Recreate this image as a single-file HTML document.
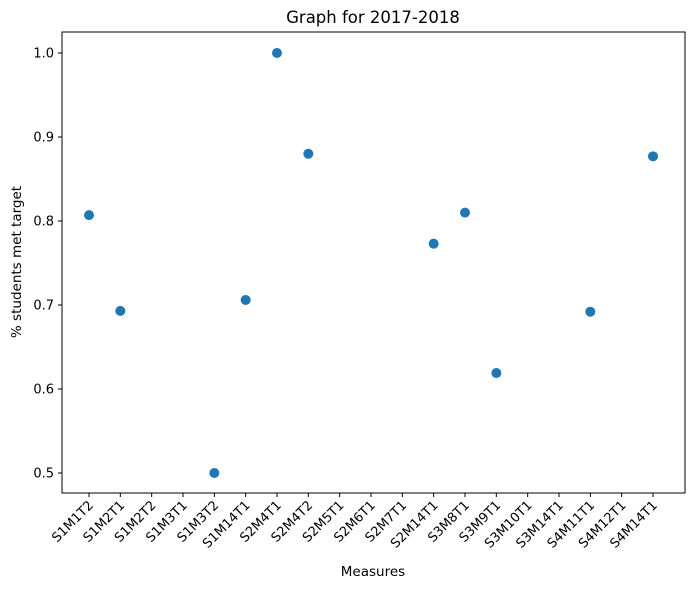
<!DOCTYPE html>
<html><head><meta charset="utf-8"><style>
body{margin:0;background:#fff;}
svg{font-family:"DejaVu Sans","Liberation Sans",sans-serif;}
</style></head><body>
<svg id="chart" width="691" height="589">
<rect x="0" y="0" width="691" height="589" fill="#fff"/>
<text x="373" y="23" font-size="16.5" text-anchor="middle">Graph for 2017-2018</text>
<rect x="62" y="32" width="623" height="461" fill="none" stroke="#000" stroke-width="1"/>
<g id="yaxis"></g>
<g id="xaxis"></g>
<g id="points"></g>
<text x="373" y="576" font-size="13.5" text-anchor="middle">Measures</text>
<text transform="translate(21,262) rotate(-90)" font-size="13.5" text-anchor="middle">% students met target</text>
</svg>
<script>
const categories=["S1M1T2","S1M2T1","S1M2T2","S1M3T1","S1M3T2","S1M14T1","S2M4T1","S2M4T2","S2M5T1","S2M6T1","S2M7T1","S2M14T1","S3M8T1","S3M9T1","S3M10T1","S3M14T1","S4M11T1","S4M12T1","S4M14T1"];
const values=[0.807,0.693,null,null,0.5,0.706,1.0,0.880,null,null,null,0.773,0.810,0.619,null,null,0.692,null,0.877];
const yTicks=[0.5,0.6,0.7,0.8,0.9,1.0];
const yTickLabels=["0.5","0.6","0.7","0.8","0.9","1.0"];
const NS="http://www.w3.org/2000/svg";
function xPos(i){return 89+i*(653-89)/(categories.length-1);}
function yPos(v){return 473-(v-0.5)*840;}
function mk(tag,attrs,parent){const e=document.createElementNS(NS,tag);for(const k in attrs)e.setAttribute(k,attrs[k]);parent.appendChild(e);return e;}
const ya=document.getElementById('yaxis'),xa=document.getElementById('xaxis'),pg=document.getElementById('points');
yTicks.forEach((t,i)=>{const y=yPos(t);
const l=mk('line',{x1:58,x2:62,y1:y,y2:y,stroke:'#000'},ya);


const tx=mk('text',{x:54,y:y+4.5,'font-size':13,'text-anchor':'end'},ya);tx.textContent=yTickLabels[i];


});
categories.forEach((c,i)=>{const x=xPos(i);
const l=mk('line',{x1:x,x2:x,y1:493,y2:497,stroke:'#000'},xa);


const tx=mk('text',{transform:`translate(${x+5},${506}) rotate(-45)`,'font-size':13,'text-anchor':'end'},xa);tx.textContent=c;


const v=values[i];if(v!==null){
const p=mk('circle',{cx:x,cy:yPos(v),r:5,fill:'#1f77b4'},pg);


}});
</script>
</body></html>
